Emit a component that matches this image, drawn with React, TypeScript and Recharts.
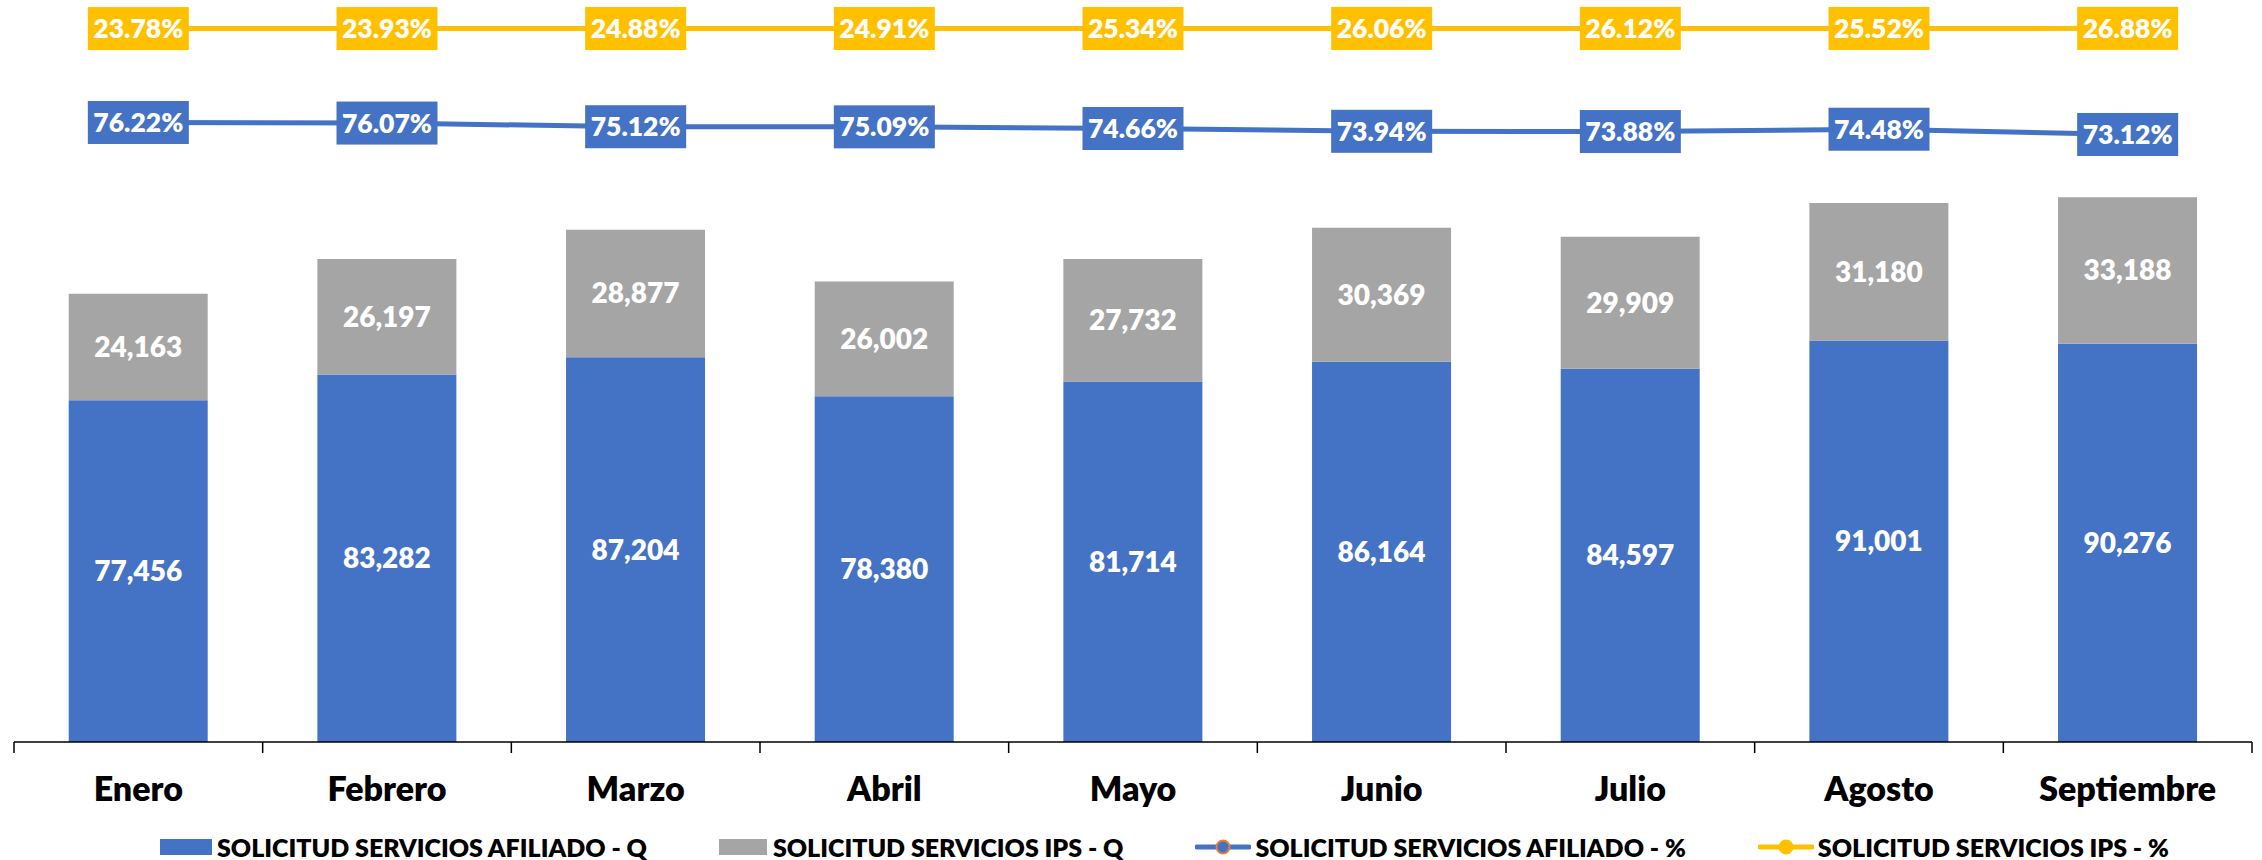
import React from 'react';
import { ComposedChart, Bar, Line, XAxis, YAxis, Legend, LabelList } from 'recharts';

const months = ['Enero', 'Febrero', 'Marzo', 'Abril', 'Mayo', 'Junio', 'Julio', 'Agosto', 'Septiembre'];
const afiliadoQ = [77456, 83282, 87204, 78380, 81714, 86164, 84597, 91001, 90276];
const ipsQ = [24163, 26197, 28877, 26002, 27732, 30369, 29909, 31180, 33188];
const afiliadoPct = [76.22, 76.07, 75.12, 75.09, 74.66, 73.94, 73.88, 74.48, 73.12];
const ipsPct = [23.78, 23.93, 24.88, 24.91, 25.34, 26.06, 26.12, 25.52, 26.88];
const seriesNames = [
  'SOLICITUD SERVICIOS AFILIADO - Q',
  'SOLICITUD SERVICIOS IPS - Q',
  'SOLICITUD SERVICIOS AFILIADO - %',
  'SOLICITUD SERVICIOS IPS - %',
];

const BLUE = '#4472C4';
const GRAY = '#A5A5A5';
const YELLOW = '#FFC000';
const ORANGE = '#ED7D31';
const FONT = 'Lato, "Open Sans", sans-serif';
const WEIGHT = 800;

const data = months.map((m, i) => ({
  month: m,
  afQ: afiliadoQ[i],
  ipsQ: ipsQ[i],
  afP: afiliadoPct[i],
  ipsP: ipsPct[i],
}));

const MonthTick = (props: any) => {
  const { x, y, payload } = props;
  const off = payload && payload.offset ? payload.offset : 124;
  const isLast = payload && payload.value === months[months.length - 1];
  return (
    <g>
      <line x1={x - off} y1={y} x2={x - off} y2={y + 11} stroke="#000" strokeWidth={1.5} />
      {isLast && <line x1={x + off} y1={y} x2={x + off} y2={y + 11} stroke="#000" strokeWidth={1.5} />}
      <text x={x} y={y + 59} textAnchor="middle" fontFamily={FONT} fontWeight={WEIGHT} fontSize={34} fill="#000">
        {payload.value}
      </text>
    </g>
  );
};

const makeBoxLabel = (color: string) => (props: any) => {
  const { x, y, value, index } = props;
  if (x == null || y == null) return null;
  return (
    <g key={`lbl-${color}-${index}`}>
      <rect x={x - 50.5} y={y - 21.5} width={101} height={43} fill={color} />
      <text x={x} y={y} dy="0.36em" textAnchor="middle" fontFamily={FONT} fontWeight={WEIGHT} fontSize={26.5} fill="#fff">
        {Number(value).toFixed(2)}%
      </text>
    </g>
  );
};

const LegendContent = () => {
  const textStyle: React.CSSProperties = {
    fontFamily: FONT,
    fontWeight: WEIGHT,
    fontSize: 25,
    color: '#000',
    whiteSpace: 'nowrap',
    lineHeight: '26px',
  };
  const item: React.CSSProperties = { display: 'flex', alignItems: 'center', marginRight: 72 };
  return (
    <div style={{ display: 'flex', alignItems: 'center', height: 48, paddingTop: 22, paddingLeft: 160, boxSizing: 'border-box' }}>
      <div style={item}>
        <div style={{ width: 52, height: 16, background: BLUE, marginRight: 5 }} />
        <span style={textStyle}>{seriesNames[0]}</span>
      </div>
      <div style={item}>
        <div style={{ width: 48, height: 16, background: GRAY, marginRight: 6 }} />
        <span style={textStyle}>{seriesNames[1]}</span>
      </div>
      <div style={item}>
        <svg width={56} height={20} style={{ marginRight: 4 }}>
          <line x1={2} y1={10} x2={54} y2={10} stroke={BLUE} strokeWidth={5} strokeLinecap="round" />
          <circle cx={28} cy={10} r={6.5} fill={BLUE} stroke={ORANGE} strokeWidth={2} />
        </svg>
        <span style={textStyle}>{seriesNames[2]}</span>
      </div>
      <div style={item}>
        <svg width={56} height={20} style={{ marginRight: 4 }}>
          <line x1={2} y1={10} x2={54} y2={10} stroke={YELLOW} strokeWidth={5} strokeLinecap="round" />
          <circle cx={28} cy={10} r={6.5} fill={YELLOW} stroke={YELLOW} strokeWidth={2} />
        </svg>
        <span style={textStyle}>{seriesNames[3]}</span>
      </div>
    </div>
  );
};

const fmtThousands = (v: any) => Number(v).toLocaleString('en-US');

export default function App() {
  return (
    <div style={{ position: 'absolute', left: 0, top: 0, width: 2262, height: 860, background: '#fff' }}>
      <ComposedChart
        width={2262}
        height={860}
        data={data}
        margin={{ top: 14, right: 10, bottom: 0, left: 14 }}
        barCategoryGap="22%"
      >
        <XAxis
          dataKey="month"
          xAxisId={0}
          height={70}
          tickSize={0}
          tickMargin={0}
          tickLine={false}
          axisLine={{ stroke: '#000', strokeWidth: 1.5 }}
          tick={<MonthTick />}
          interval={0}
        />
        <YAxis yAxisId="q" domain={[0, 165000]} hide allowDataOverflow />
        <YAxis yAxisId="p" domain={[-83.86, 104.25]} hide allowDataOverflow />
        <YAxis yAxisId="y" domain={[-10000, 228.7]} hide allowDataOverflow />
        <Legend
          verticalAlign="bottom"
          height={48}
          wrapperStyle={{ left: 0, width: 2262 }}
          content={() => <LegendContent />}
        />
        <Bar yAxisId="q" dataKey="afQ" stackId="s" fill={BLUE} name={seriesNames[0]} isAnimationActive={false}>
          <LabelList
            dataKey="afQ"
            position="center"
            formatter={fmtThousands}
            fill="#fff"
            fontFamily={FONT}
            fontWeight={WEIGHT}
            fontSize={28}
          />
        </Bar>
        <Bar yAxisId="q" dataKey="ipsQ" stackId="s" fill={GRAY} name={seriesNames[1]} isAnimationActive={false}>
          <LabelList
            dataKey="ipsQ"
            position="center"
            formatter={fmtThousands}
            fill="#fff"
            fontFamily={FONT}
            fontWeight={WEIGHT}
            fontSize={28}
          />
        </Bar>
        <Line
          yAxisId="p"
          dataKey="afP"
          stroke={BLUE}
          strokeWidth={5}
          dot={false}
          activeDot={false}
          name={seriesNames[2]}
          isAnimationActive={false}
          label={makeBoxLabel(BLUE)}
        />
        <Line
          yAxisId="y"
          dataKey="ipsP"
          stroke={YELLOW}
          strokeWidth={5}
          dot={false}
          activeDot={false}
          name={seriesNames[3]}
          isAnimationActive={false}
          label={makeBoxLabel(YELLOW)}
        />
      </ComposedChart>
    </div>
  );
}
